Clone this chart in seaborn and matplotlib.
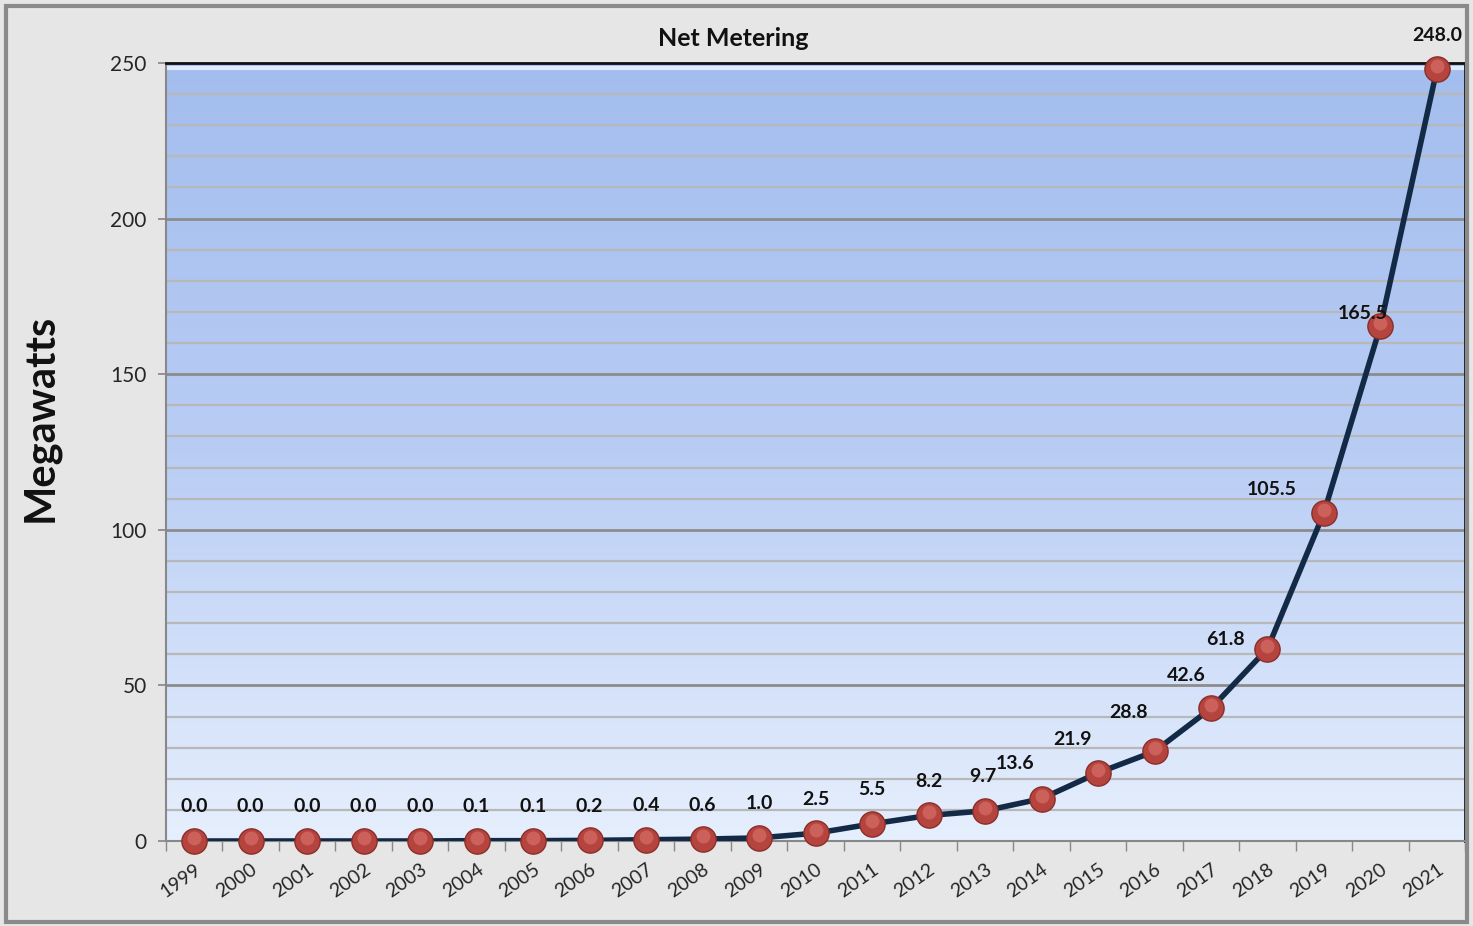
import numpy as np
import pandas as pd
import matplotlib
matplotlib.use("Agg")
import matplotlib.pyplot as plt
from matplotlib.colors import LinearSegmentedColormap
from matplotlib.patches import Rectangle
import seaborn as sns

# data
years = [str(y) for y in range(1999, 2022)]
megawatts = [0.0, 0.0, 0.0, 0.0, 0.0, 0.1, 0.1, 0.2, 0.4, 0.6, 1.0, 2.5,
             5.5, 8.2, 9.7, 13.6, 21.9, 28.8, 42.6, 61.8, 105.5, 165.5, 248.0]

# label offsets in pixels (dx, dy) from each point, as placed in the original
label_dx = [0] * 14 + [-2, -26, -26, -26, -25, -42, -52, -18, 0]
label_dy = [34] * 14 + [34, 35, 33, 39, 33, 9, 23, 12, 34]

df = pd.DataFrame({"Year": years, "MW": megawatts})
df["x"] = np.arange(len(df))

sns.set_theme(style="white")
plt.rcParams["font.family"] = ["Lato", "DejaVu Sans"]

fig = plt.figure(figsize=(14.73, 9.26), dpi=100, facecolor="#e6e6e6")
fig.patches.append(Rectangle((0.004, 0.004), 0.992, 0.99, transform=fig.transFigure,
                             fill=False, edgecolor="#8a8a8a", linewidth=3))
ax = fig.add_axes([0.1127, 0.0918, 0.882, 0.8402])

# gradient background of the plot area
cmap = LinearSegmentedColormap.from_list("bg", ["#e6effd", "#b9cdf4", "#a3bdee"])
grad = np.linspace(0, 1, 256).reshape(-1, 1)
ax.imshow(grad, cmap=cmap, aspect="auto", extent=[-0.5, 22.5, 0, 250],
          origin="lower", zorder=0)
ax.axhline(248.5, color="#e2ecfc", linewidth=3, zorder=1)

for v in range(10, 250, 10):
    major = v % 50 == 0
    ax.axhline(v, color="#8c8c8c" if major else "#b8b8b8",
               linewidth=2 if major else 1.6, zorder=1)

sns.lineplot(data=df, x="x", y="MW", ax=ax, color="#132a47", linewidth=4,
             zorder=3, legend=False)
ax.scatter(df["x"], df["MW"], s=330, color="#b5443e", edgecolor="#8a2e2a",
           linewidth=1.0, zorder=4, clip_on=False)
ax.scatter(df["x"], df["MW"] + 1.0, s=100, color="#d9706a", linewidth=0,
           alpha=0.65, zorder=5, clip_on=False)

for i, (xv, yv) in enumerate(zip(df["x"], df["MW"])):
    ax.annotate(f"{yv:.1f}", (xv, yv), xytext=(label_dx[i], label_dy[i]),
                textcoords="offset pixels", ha="center", va="center",
                fontsize=14, fontweight="bold", color="#111111", zorder=6,
                annotation_clip=False)

ax.set_xlim(-0.5, 22.5)
ax.set_ylim(0, 250)
ax.set_yticks([0, 50, 100, 150, 200, 250])
ax.set_xticks(df["x"])
ax.set_xticklabels(years, rotation=35, ha="right", rotation_mode="anchor",
                   fontsize=14)
ax.tick_params(axis="y", labelsize=15, length=6, color="#888888", pad=8,
               left=True)
ax.tick_params(axis="x", length=0, pad=14)
ax.set_xticks(np.arange(-0.5, 23, 1), minor=True)
ax.tick_params(axis="x", which="minor", length=7, color="#888888", bottom=True)
ax.set_xlabel("")
ax.set_ylabel("")
fig.text(40 / 1473, 1 - 418 / 926, "Megawatts", rotation=90, ha="center",
         va="center", fontsize=30, fontweight="bold", color="#111111")
fig.text(733 / 1473, 1 - 38 / 926, "Net Metering", ha="center", va="center",
         fontsize=18, fontweight="bold", color="#111111")

for side in ["top", "right"]:
    ax.spines[side].set_color("#111111")
    ax.spines[side].set_linewidth(2)
for side in ["left", "bottom"]:
    ax.spines[side].set_color("#888888")
    ax.spines[side].set_linewidth(1.5)

fig.savefig("out.png", dpi=100, facecolor=fig.get_facecolor())
